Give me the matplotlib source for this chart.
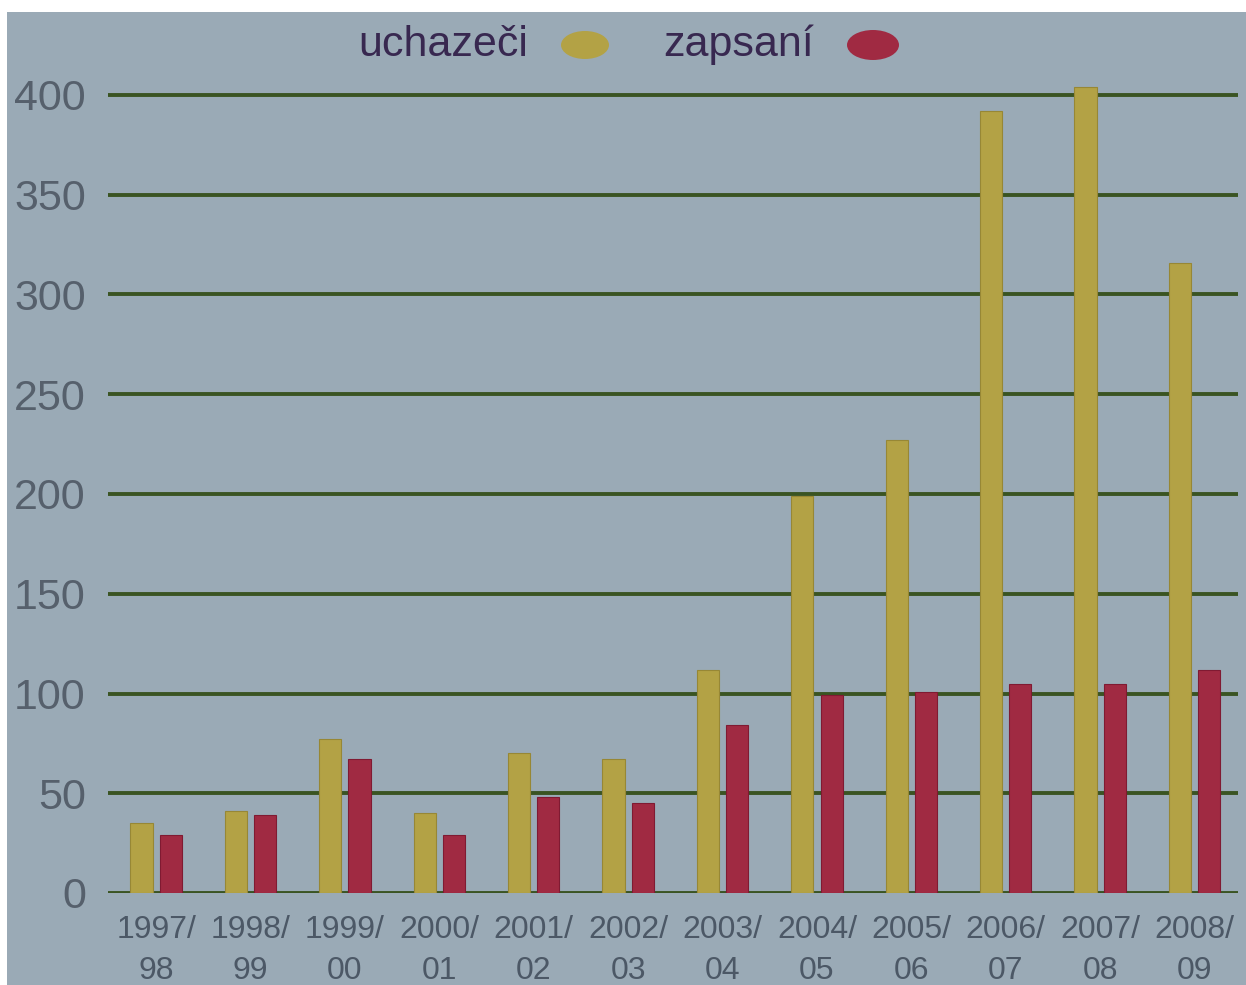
import matplotlib
matplotlib.use("Agg")
import matplotlib.pyplot as plt
from matplotlib.patches import Rectangle, Ellipse
import numpy as np

categories = ["1997/\n98", "1998/\n99", "1999/\n00", "2000/\n01", "2001/\n02", "2002/\n03",
              "2003/\n04", "2004/\n05", "2005/\n06", "2006/\n07", "2007/\n08", "2008/\n09"]
uchazeci = [35, 41, 77, 40, 70, 67, 112, 199, 227, 392, 404, 316]
zapsani = [29, 39, 67, 29, 48, 45, 84, 99, 101, 105, 105, 112]
yticks = [0, 50, 100, 150, 200, 250, 300, 350, 400]
series_names = ["uchazeči", "zapsaní"]

W, H = 1246, 985
fig = plt.figure(figsize=(W / 100, H / 100), dpi=100)
fig.patch.set_facecolor("white")
bg = "#9aaab6"
fig.patches.append(Rectangle((7 / W, 0), 1 - 7 / W, 1 - 12 / H, transform=fig.transFigure,
                             facecolor=bg, edgecolor="none", zorder=-10))

fam = ["Liberation Sans Narrow", "Liberation Sans", "DejaVu Sans"]

# axes: x from 108 to 1238 px, y: 0 at 893 px, 400 at 95 px
y0_px, y400_px = 893, 95
ppu = (y0_px - y400_px) / 400.0
ytop = 415
ax_left = 108 / W
ax_right = 1238 / W
ax_bottom = (H - y0_px) / H
ax_top = (H - (y0_px - ytop * ppu)) / H
ax = fig.add_axes([ax_left, ax_bottom, ax_right - ax_left, ax_top - ax_bottom])
ax.set_facecolor("none")

x = np.arange(len(categories))
bw = 0.235
off = 0.155
gold, red = "#b3a245", "#a02a42"
ax.bar(x - off, uchazeci, width=bw, color=gold, zorder=3, edgecolor="#978735", linewidth=0.8)
ax.bar(x + off, zapsani, width=bw, color=red, zorder=3, edgecolor="#801a32", linewidth=0.8)

for t in yticks:
    ax.axhline(t, color="#3a5422", lw=2.8, zorder=1)

ax.set_xlim(-0.51, 11.46)
ax.set_ylim(0, ytop)
for s in ax.spines.values():
    s.set_visible(False)
ax.set_yticks(yticks)
ax.set_yticklabels([str(t) for t in yticks], fontsize=31, family=fam, color="#56606c")
ax.set_xticks(x)
ax.set_xticklabels(categories, fontsize=23, linespacing=1.45, family=fam, color="#4c5866")
ax.tick_params(axis="x", length=0, pad=16)
ax.tick_params(axis="y", length=0, pad=16)

# legend
fig.text(358 / W, 1 - 45 / H, series_names[0], fontsize=31, color="#382850",
         family=fam, va="center", ha="left")
fig.patches.append(Ellipse((585 / W, 1 - 45 / H), 48 / W, 28 / H, transform=fig.transFigure,
                           facecolor=gold, edgecolor="none"))
fig.text(663 / W, 1 - 45 / H, series_names[1], fontsize=31, color="#382850",
         family=fam, va="center", ha="left")
fig.patches.append(Ellipse((873 / W, 1 - 45 / H), 52 / W, 30 / H, transform=fig.transFigure,
                           facecolor=red, edgecolor="none"))

fig.savefig("out.png", dpi=100, facecolor=fig.get_facecolor())
